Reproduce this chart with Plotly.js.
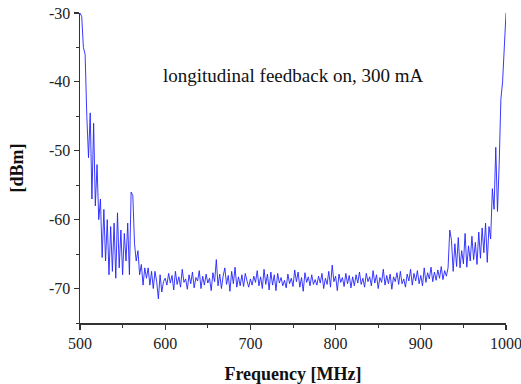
<!DOCTYPE html>
<html>
<head>
<meta charset="utf-8">
<script src="https://cdn.plot.ly/plotly-3.0.1.min.js"></script>
<style>html,body{margin:0;padding:0;background:#fff;}#chart{width:521px;height:384px;}</style>
</head>
<body>
<div id="chart"></div>
<script>
// Frequency sweep 500–1000 MHz, evenly sampled
var freqStart = 500;
var freqEnd = 1000;

// Power level [dBm]
var powerDbm = [
  -30, -30.5, -35, -36, -45, -51, -44.5, -57, -46, -58,
  -52, -60, -57, -65.5, -58.5, -66, -60, -68, -61, -67.5,
  -60.5, -68.5, -59, -67, -61.5, -68, -62, -66, -60.5, -68,
  -56, -56.5, -63.5, -66, -64.5, -68, -66.5, -69.5, -67, -68.5,
  -67, -69.5, -67.5, -70, -67.5, -69, -71.5, -68, -70.5, -69,
  -68.5,
  -69.5, -67.8, -69.2, -68.1, -70.2, -67.5, -69.4, -68.3, -69.8, -67.2,
  -69.1, -68.6, -70.1, -68.0, -69.3, -67.6, -69.9, -68.4, -68.9, -67.4,
  -70.0, -68.2, -69.5, -67.9, -69.2, -68.5, -70.3, -67.7, -69.0, -65.8,
  -69.6, -67.9, -70.0, -68.2, -67.0, -69.4, -68.1, -70.4, -67.5, -69.3,
  -66.9, -69.8, -68.3, -69.6, -68.0, -69.7, -67.8, -68.9, -69.8, -68.6,
  -69.5, -68.2, -69.1, -67.4, -69.6, -68.3, -70.0, -67.2, -69.4, -67.9,
  -70.2, -67.6, -69.5, -68.0, -70.3, -67.8, -69.2, -68.4, -69.6, -68.8,
  -69.9, -67.9, -69.3, -68.5, -69.7, -67.3, -69.0, -67.6, -69.8, -68.4,
  -70.4, -67.7, -69.1, -68.3, -69.6, -68.0, -69.4, -68.7, -69.5, -68.2,
  -69.2, -67.8, -70.0, -68.5, -69.4, -67.5, -69.8, -66.6, -69.0, -68.2,
  -70.3, -67.9, -69.1, -68.4, -69.7, -67.8, -69.3, -68.1, -69.9, -68.3,
  -69.6, -68.0, -69.2, -67.6, -69.4, -68.5, -69.8, -67.8, -69.0, -68.3,
  -69.6, -67.4, -69.2, -68.0, -70.0, -68.4, -69.1, -67.2, -69.5, -68.1,
  -69.3, -67.9, -70.1, -68.3, -69.0, -67.7, -69.4, -67.5, -69.3, -68.6,
  -69.8, -67.9, -68.9, -67.2, -69.5, -67.8, -68.9, -67.4, -69.3, -68.1,
  -69.6, -67.0, -69.1, -67.7, -68.6, -66.9, -69.0, -67.6, -68.8, -67.3,
  -68.5, -66.8, -68.7, -67.4, -68.2,
  -67.0, -61.5, -63.0, -67.5, -63.5, -66.8, -62.6, -67.0, -64.5, -66.4,
  -62.0, -66.9, -63.8, -66.0, -62.4, -65.8, -63.3, -66.5, -61.8, -65.6,
  -61.2, -64.8, -60.5, -66.2, -61.0, -62.8, -55.5, -58.5, -49.5, -58.8,
  -52.0, -42.5, -40.0, -35.5, -30.0
];

var xTickVals = [500, 600, 700, 800, 900, 1000];
var yTickVals = [-70, -60, -50, -40, -30];
var yTickText = ['-70', '-60', '-50', '-40', '-30'];

var step = (freqEnd - freqStart) / (powerDbm.length - 1);
var freq = powerDbm.map(function (_, i) { return freqStart + i * step; });

var serif = 'Liberation Serif';

var trace = {
  x: freq, y: powerDbm, type: 'scatter', mode: 'lines',
  line: {color: 'rgb(35,35,255)', width: 0.9},
  hoverinfo: 'skip'
};

var layout = {
  width: 521, height: 384,
  margin: {l: 80, r: 15, t: 13, b: 61},
  paper_bgcolor: '#fff', plot_bgcolor: '#fff',
  showlegend: false,
  font: {family: serif, size: 16, color: '#222'},
  xaxis: {
    range: [500, 1000], tickvals: xTickVals,
    showline: true, linecolor: '#333', linewidth: 1.5,
    ticks: 'outside', ticklen: 5, tickwidth: 1.2, tickcolor: '#333',
    minor: {ticks: 'outside', ticklen: 3, tickwidth: 1, tickcolor: '#333', dtick: 50, tick0: 500, showgrid: false},
    showgrid: false, zeroline: false, automargin: false,
    ticklabeloverflow: 'allow',
    tickfont: {family: serif, size: 16, color: '#222'},
    title: {text: 'Frequency [MHz]', font: {family: serif, size: 18, color: '#111', weight: 'bold'}, standoff: 16}
  },
  yaxis: {
    range: [-75, -30], tickvals: yTickVals, ticktext: yTickText,
    showline: true, linecolor: '#333', linewidth: 1.5,
    ticks: 'outside', ticklen: 5, tickwidth: 1.2, tickcolor: '#333',
    minor: {ticks: 'outside', ticklen: 3, tickwidth: 1, tickcolor: '#333', dtick: 5, tick0: -75, showgrid: false},
    showgrid: false, zeroline: false,
    tickfont: {family: serif, size: 16, color: '#222'},
    title: {text: '[dBm]', font: {family: serif, size: 18, color: '#111', weight: 'bold'}, standoff: 20}
  },
  annotations: [{
    x: 750, y: -39, xref: 'x', yref: 'y', showarrow: false,
    text: 'longitudinal feedback on, 300 mA',
    font: {family: serif, size: 19, color: '#111'}
  }]
};

Plotly.newPlot('chart', [trace], layout, {staticPlot: true, displayModeBar: false});
</script>
</body>
</html>
